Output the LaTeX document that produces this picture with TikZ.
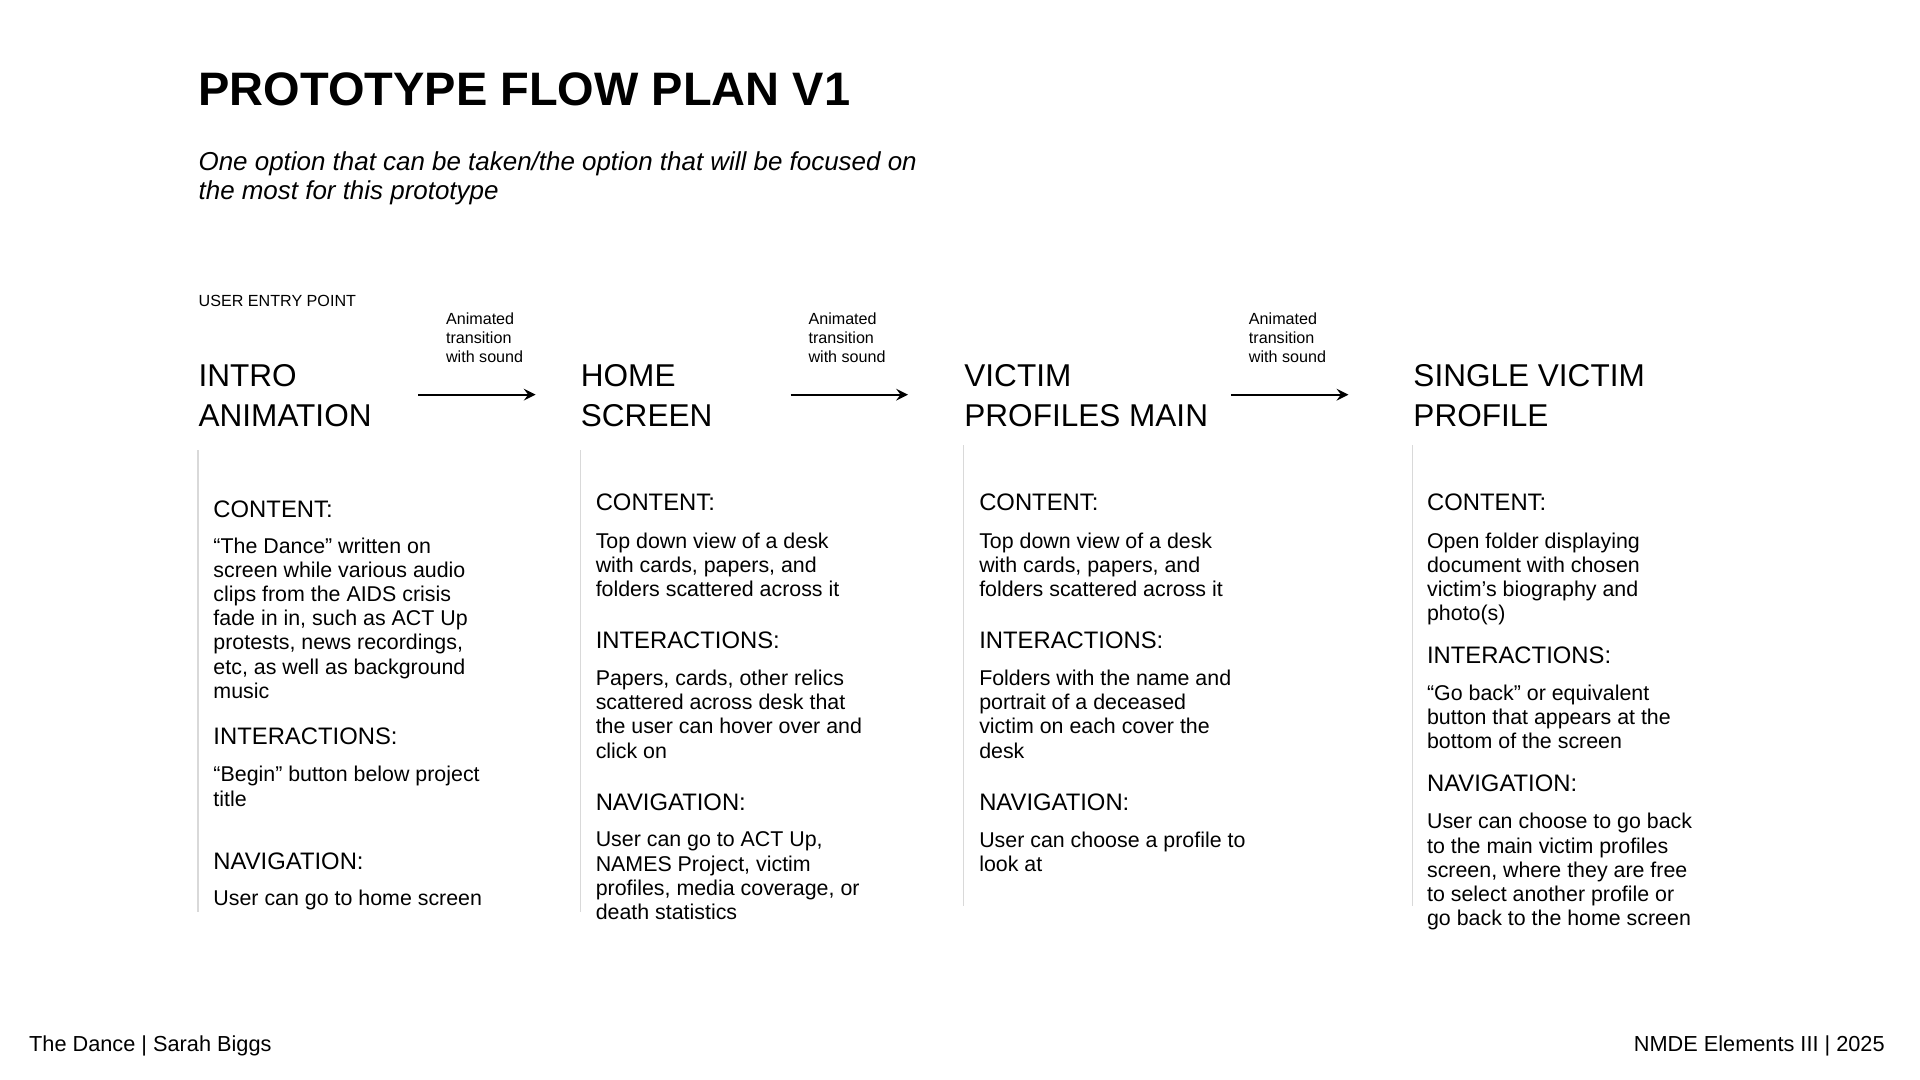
\documentclass[tikz,border=0pt]{standalone}
\usepackage{fontspec}
\setmainfont{Liberation Sans}
\begin{document}
\begin{tikzpicture}[x=0.0124cm,y=-0.0124cm,
  body/.style={anchor=north west,inner sep=0,align=left,font=\fontsize{6.1}{6.9}\selectfont},
  head/.style={anchor=base west,inner sep=0,font=\fontsize{6.8}{8}\selectfont},
  big/.style={anchor=north west,inner sep=0,align=left,font=\fontsize{9}{11.3}\selectfont},
  small/.style={anchor=north west,inner sep=0,align=left,font=\fontsize{4.6}{5.5}\selectfont},
  vl/.style={draw=black!15,line width=0.4pt},
  arr/.style={-stealth,line width=0.5pt}]
\useasboundingbox (0,0) rectangle (1552,873);
\node[anchor=base west,inner sep=0,font=\fontsize{13.4}{16}\selectfont\bfseries] (title) at (160,85) {PROTOTYPE FLOW PLAN V1};
\node[anchor=north west,inner sep=0,align=left,font=\fontsize{7.4}{8.4}\selectfont\itshape] (sub) at (160,122) {One option that can be taken/the option that will be focused on\\the most for this prototype};
\node[anchor=base west,inner sep=0,font=\fontsize{4.6}{5.5}\selectfont] (uep) at (160,248) {USER ENTRY POINT};
% headings
\node[big] (h1) at (160,294) {INTRO\\ANIMATION};
\node[big] (h2) at (469,294) {HOME\\SCREEN};
\node[big] (h3) at (779,294) {VICTIM\\PROFILES MAIN};
\node[big] (h4) at (1142,294) {SINGLE VICTIM\\PROFILE};
% arrows
\coordinate (a1s) at (338,319); \coordinate (a1e) at (433,319);
\coordinate (a2s) at (639,319); \coordinate (a2e) at (734,319);
\coordinate (a3s) at (995,319); \coordinate (a3e) at (1090,319);
\draw[arr] (a1s) -- (a1e); \draw[arr] (a2s) -- (a2e); \draw[arr] (a3s) -- (a3e);
\node[small] (l1) at (360,252) {Animated\\transition\\with sound};
\node[small] (l2) at (653,252) {Animated\\transition\\with sound};
\node[small] (l3) at (1009,252) {Animated\\transition\\with sound};
% vertical lines
\coordinate (v1a) at (160,364); \coordinate (v1b) at (160,737);
\coordinate (v2a) at (469,364); \coordinate (v2b) at (469,737);
\coordinate (v3a) at (779,360); \coordinate (v3b) at (779,732);
\coordinate (v4a) at (1142,360); \coordinate (v4b) at (1142,732);
\draw[vl] (v1a)--(v1b); \draw[vl] (v2a)--(v2b); \draw[vl] (v3a)--(v3b); \draw[vl] (v4a)--(v4b);
% col1
\node[head] (c1) at (172,418) {CONTENT:};
\node[body] (c1t) at (172,434) {“The Dance” written on\\screen while various audio\\clips from the AIDS crisis\\fade in in, such as ACT Up\\protests, news recordings,\\etc, as well as background\\music};
\node[head] (i1) at (172,602) {INTERACTIONS:};
\node[body] (i1t) at (172,619) {“Begin” button below project\\title};
\node[head] (n1) at (172,703) {NAVIGATION:};
\node[anchor=base west,inner sep=0,font=\fontsize{6.1}{6.9}\selectfont] (n1t) at (172,732) {User can go to home screen};
% col2
\node[head] (c2) at (481,413) {CONTENT:};
\node[body] (c2t) at (481,430) {Top down view of a desk\\with cards, papers, and\\folders scattered across it};
\node[head] (i2) at (481,524) {INTERACTIONS:};
\node[body] (i2t) at (481,541) {Papers, cards, other relics\\scattered across desk that\\the user can hover over and\\click on};
\node[head] (n2) at (481,655) {NAVIGATION:};
\node[body] (n2t) at (481,672) {User can go to ACT Up,\\NAMES Project, victim\\profiles, media coverage, or\\death statistics};
% col3
\node[head] (c3) at (791,413) {CONTENT:};
\node[body] (c3t) at (791,430) {Top down view of a desk\\with cards, papers, and\\folders scattered across it};
\node[head] (i3) at (791,524) {INTERACTIONS:};
\node[body] (i3t) at (791,541) {Folders with the name and\\portrait of a deceased\\victim on each cover the\\desk};
\node[head] (n3) at (791,655) {NAVIGATION:};
\node[body] (n3t) at (791,672) {User can choose a profile to\\look at};
% col4
\node[head] (c4) at (1153,413) {CONTENT:};
\node[body] (c4t) at (1153,430) {Open folder displaying\\document with chosen\\victim’s biography and\\photo(s)};
\node[head] (i4) at (1153,536) {INTERACTIONS:};
\node[body] (i4t) at (1153,553) {“Go back” or equivalent\\button that appears at the\\bottom of the screen};
\node[head] (n4) at (1153,640) {NAVIGATION:};
\node[body] (n4t) at (1153,657) {User can choose to go back\\to the main victim profiles\\screen, where they are free\\to select another profile or\\go back to the home screen};
% footer
\node[anchor=base west,inner sep=0,font=\fontsize{6.2}{7}\selectfont] (f1) at (23,850) {The Dance | Sarah Biggs};
\node[anchor=base east,inner sep=0,font=\fontsize{6.2}{7}\selectfont] (f2) at (1524,850) {NMDE Elements III | 2025};
\end{tikzpicture}
\end{document}
